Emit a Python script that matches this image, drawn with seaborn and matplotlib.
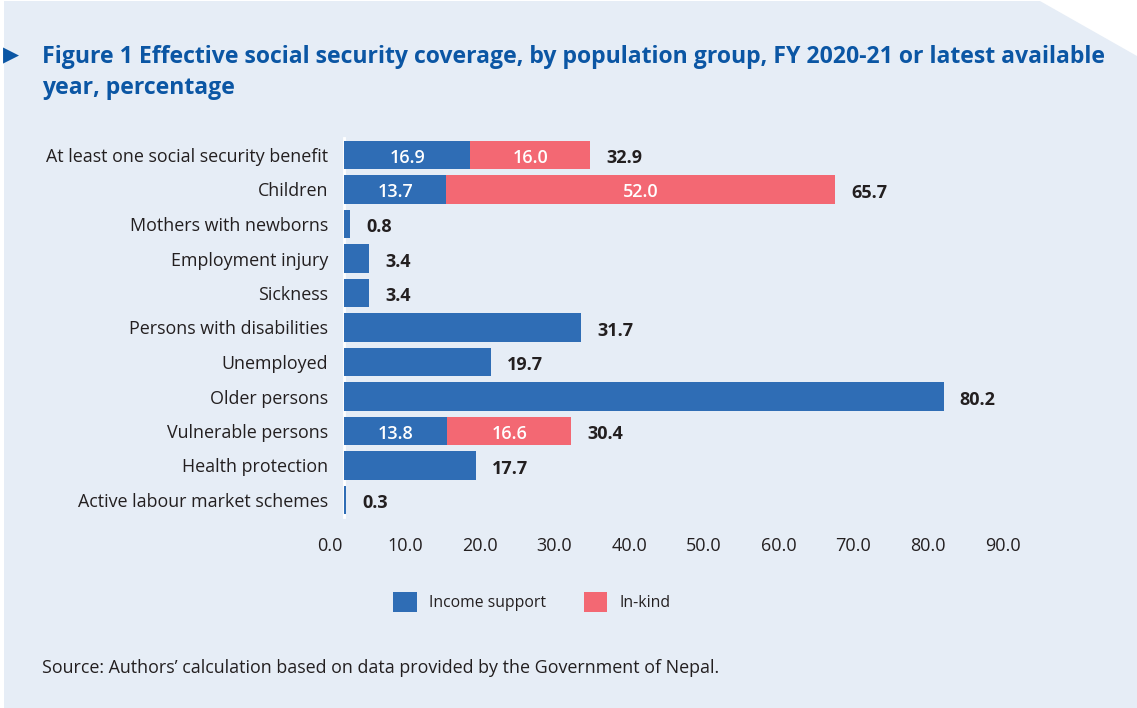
import matplotlib
matplotlib.use("Agg")
import matplotlib.pyplot as plt
import matplotlib.transforms as mtransforms
from matplotlib.patches import Polygon, Patch
import seaborn as sns
import pandas as pd

categories = [
    "At least one social security benefit",
    "Children",
    "Mothers with newborns",
    "Employment injury",
    "Sickness",
    "Persons with disabilities",
    "Unemployed",
    "Older persons",
    "Vulnerable persons",
    "Health protection",
    "Active labour market schemes",
]
income_support = [16.9, 13.7, 0.8, 3.4, 3.4, 31.7, 19.7, 80.2, 13.8, 17.7, 0.3]
in_kind = [16.0, 52.0, 0.0, 0.0, 0.0, 0.0, 0.0, 0.0, 16.6, 0.0, 0.0]
x_ticks = [0, 10, 20, 30, 40, 50, 60, 70, 80, 90]

BLUE = "#2f6db5"
PINK = "#f36873"
BG = "#e6edf6"
TEXT = "#231f20"
TITLE = "#0b56a4"

sns.set_theme(style="white")
plt.rcParams["font.family"] = ["Open Sans", "Noto Sans", "DejaVu Sans"]

df = pd.DataFrame({
    "group": categories,
    "income": income_support,
    "inkind": in_kind,
})
df["total"] = df["income"] + df["inkind"]

W, H = 1137, 708
fig = plt.figure(figsize=(W / 100, H / 100), dpi=100, facecolor="white")

# Panel background with a clipped top-right corner
panel = Polygon(
    [(4 / W, 0), (4 / W, 1 - 1 / H), (1040 / W, 1 - 1 / H),
     (1, 1 - 56 / H), (1, 0)],
    closed=True, transform=fig.transFigure, facecolor=BG, edgecolor="none",
    zorder=-5,
)
fig.patches.append(panel)

left, right = 344 / W, 1017 / W
top, bottom = 1 - 137.75 / H, 1 - 517.25 / H
ax = fig.add_axes([left, bottom, right - left, top - bottom])
ax.set_zorder(2)
ax.set_facecolor("none")

# Stacked bars: totals in pink underneath, income support in blue on top
sns.barplot(data=df, y="group", x="total", color=PINK, saturation=1,
            width=0.82, orient="h", ax=ax, zorder=2, linewidth=0)
sns.barplot(data=df, y="group", x="income", color=BLUE, saturation=1,
            width=0.82, orient="h", ax=ax, zorder=3, linewidth=0)

ax.set_xlim(0, 90)
ax.set_ylim(10.5, -0.5)
ax.set_xlabel("")
ax.set_ylabel("")
for side in ["top", "right", "bottom"]:
    ax.spines[side].set_visible(False)
ax.spines["left"].set_color("white")
ax.spines["left"].set_linewidth(2)
ax.spines["left"].set_zorder(1)

ax.set_xticks(x_ticks)
ax.set_xticklabels([f"{t:.1f}" for t in x_ticks], fontsize=13, color=TEXT)
ax.tick_params(axis="x", length=0, pad=14)
shift = mtransforms.ScaledTranslation(-14 / 100, 0, fig.dpi_scale_trans)
for lbl in ax.get_xticklabels():
    lbl.set_transform(lbl.get_transform() + shift)

ax.set_yticks(range(len(categories)))
ax.set_yticklabels(categories, fontsize=12.9, color=TEXT)
ax.tick_params(axis="y", length=0, pad=11.5)

# Segment labels inside stacked bars and totals at bar ends
for i, row in df.iterrows():
    if row["inkind"] > 0:
        ax.text(row["income"] / 2, i + 0.08, f"{row['income']:.1f}",
                ha="center", va="center", color="white", fontsize=13,
                fontweight="semibold", zorder=5)
        ax.text(row["income"] + row["inkind"] / 2, i + 0.08,
                f"{row['inkind']:.1f}", ha="center", va="center",
                color="white", fontsize=13, fontweight="semibold", zorder=5)
    ax.annotate(f"{row['total']:.1f}", xy=(row["total"], i + 0.1),
                xytext=(16, 0), textcoords="offset pixels",
                ha="left", va="center", color=TEXT, fontsize=13,
                fontweight="bold", zorder=5)

# Title with marker
fig.text(3 / W, 1 - 55 / H, "\u25B6", color=TITLE, fontsize=15,
         ha="left", va="center", family=["DejaVu Sans"])
fig.text(42 / W, 1 - 45 / H,
         "Figure 1 Effective social security coverage, by population group, "
         "FY 2020-21 or latest available\nyear, percentage",
         color=TITLE, fontsize=16.6, fontweight="bold", ha="left", va="top",
         linespacing=1.38, transform=fig.transFigure)

handles = [Patch(facecolor=BLUE, edgecolor="none", label="Income support"),
           Patch(facecolor=PINK, edgecolor="none", label="In-kind")]
fig.legend(handles=handles, loc="center", bbox_to_anchor=(532 / W, 1 - 602 / H),
           ncol=2, frameon=False, fontsize=11.3, handlelength=1.5,
           handleheight=1.5, handletextpad=0.8, columnspacing=2.4,
           labelcolor=TEXT)

fig.text(42 / W, 1 - 668 / H,
         "Source: Authors\u2019 calculation based on data provided by the Government of Nepal.",
         color=TEXT, fontsize=12.9, ha="left", va="center")

fig.savefig("out.png", dpi=100, facecolor=fig.get_facecolor())
